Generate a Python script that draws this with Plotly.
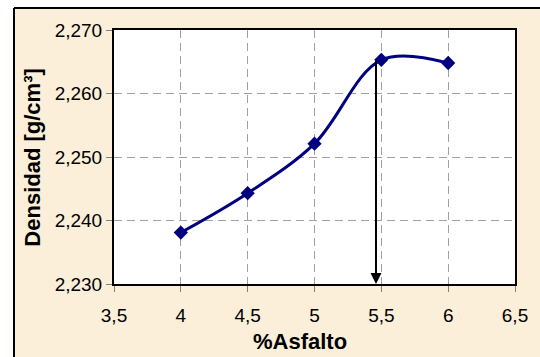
import plotly.graph_objects as go

# Density vs. asphalt content
asfalto = [4, 4.5, 5, 5.5, 6]
densidad = [2.2381, 2.2443, 2.2521, 2.2653, 2.2648]

# Optimum asphalt content marker (vertical arrow down to the x axis)
opt_asfalto = 5.46
opt_densidad = 2.2654

x_ticks = [3.5, 4, 4.5, 5, 5.5, 6, 6.5]
y_ticks = [2.230, 2.240, 2.250, 2.260, 2.270]

x_title = "<b>%Asfalto</b>"
y_title = "<b>Densidad [g/cm³]</b>"

W, H = 540, 357
L, R, T, B = 114, 17, 30, 73
plot_w, plot_h = W - L - R, H - T - B


def px_to_paper_x(px):
    return (px - L) / plot_w


def px_to_paper_y(py):
    return (H - B - py) / plot_h


FONT = "Liberation Sans, Arial, sans-serif"
NAVY = "#000080"
BEIGE = "#FBEFD9"

fig = go.Figure()
fig.add_trace(go.Scatter(
    x=asfalto, y=densidad,
    mode="lines+markers",
    line=dict(color=NAVY, width=3, shape="spline", smoothing=1),
    marker=dict(symbol="diamond", size=11, color=NAVY),
    showlegend=False,
))

fig.add_annotation(
    x=opt_asfalto, y=y_ticks[0], xref="x", yref="y",
    ax=opt_asfalto, ay=opt_densidad, axref="x", ayref="y",
    text="", showarrow=True, arrowhead=2, arrowsize=1.1, arrowwidth=2,
    arrowcolor="black", standoff=0, startstandoff=0,
)

# Axis titles
fig.add_annotation(
    x=px_to_paper_x(304), y=px_to_paper_y(341), xref="paper", yref="paper",
    text=x_title, showarrow=False, xanchor="center", yanchor="middle",
    font=dict(family=FONT, size=22, color="black"),
)
fig.add_annotation(
    x=px_to_paper_x(30), y=px_to_paper_y(158), xref="paper", yref="paper",
    text=y_title, showarrow=False, xanchor="center", yanchor="middle", textangle=-90,
    font=dict(family=FONT, size=22, color="black"),
)

# Frame: white strip outside the beige panel and its black border
fx = px_to_paper_x(12)
fy = px_to_paper_y(8)
fig.add_shape(type="rect", xref="paper", yref="paper", x0=-0.5, x1=fx, y0=-0.5, y1=1.5,
              fillcolor="white", line=dict(width=0), layer="below")
fig.add_shape(type="rect", xref="paper", yref="paper", x0=-0.5, x1=1.5, y0=fy, y1=1.5,
              fillcolor="white", line=dict(width=0), layer="below")
fig.add_shape(type="line", xref="paper", yref="paper", x0=fx, x1=fx, y0=-0.5, y1=fy,
              line=dict(color="black", width=2))
fig.add_shape(type="line", xref="paper", yref="paper", x0=fx, x1=1.5, y0=fy, y1=fy,
              line=dict(color="black", width=2))

axis_common = dict(
    showline=True, linecolor="black", linewidth=2, mirror=True,
    showgrid=True, gridcolor="#A0A0A0", gridwidth=1, griddash="8px,5px",
    ticks="outside", ticklen=6, tickcolor="#808080", tickwidth=1,
    tickfont=dict(family=FONT, size=19, color="black"),
    zeroline=False,
)

fig.update_layout(
    width=W, height=H,
    margin=dict(l=L, r=R, t=T, b=B, pad=0),
    paper_bgcolor=BEIGE, plot_bgcolor="white",
    separators=",.",
    xaxis=dict(
        range=[3.5, 6.5], tickvals=x_ticks,
        ticklabelstandoff=7,
        **axis_common,
    ),
    yaxis=dict(
        range=[2.230, 2.270], tickvals=y_ticks, tickformat=".3f",
        **axis_common,
    ),
)

fig.write_html("out.html")
